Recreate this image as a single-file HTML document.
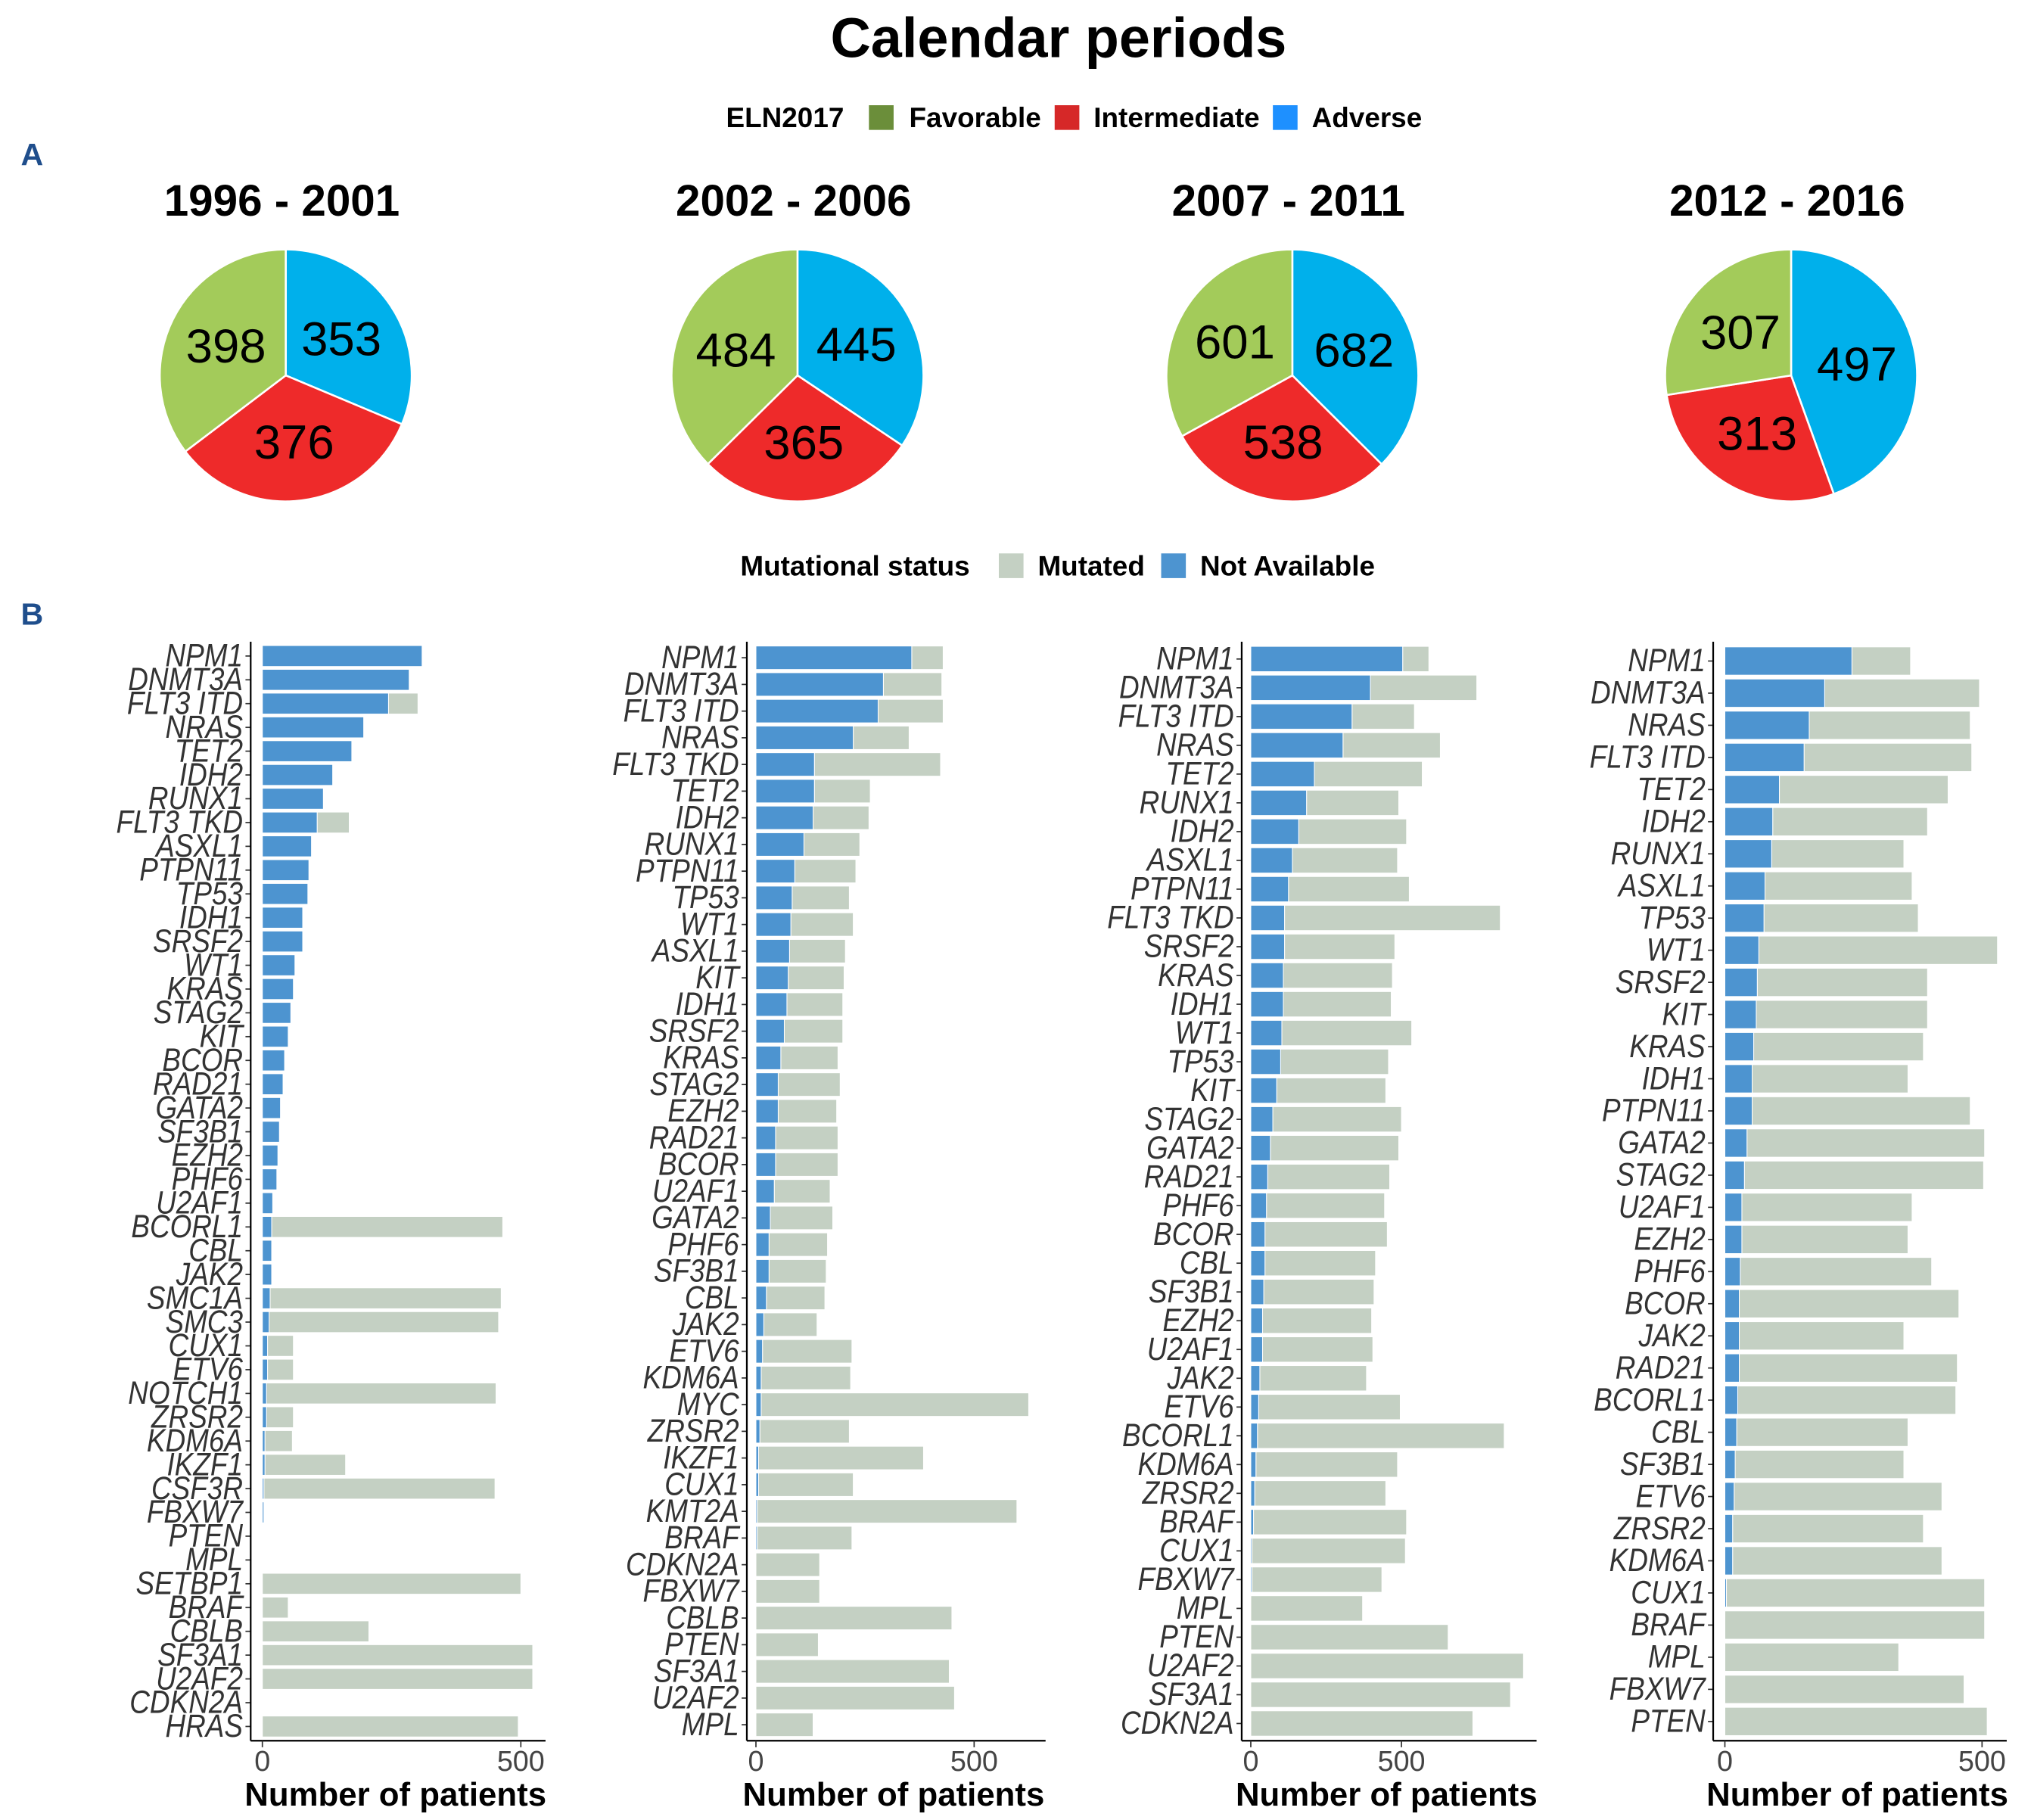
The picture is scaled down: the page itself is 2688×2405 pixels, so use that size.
<!DOCTYPE html>
<html><head><meta charset="utf-8">
<style>
html,body{margin:0;padding:0;background:#fff;}
svg{display:block;font-family:"Liberation Sans",Arial,sans-serif;}
</style></head>
<body>
<svg id="fig" width="2688" height="2405" viewBox="0 0 1566 1401" preserveAspectRatio="none" xmlns="http://www.w3.org/2000/svg">
<text x="815" y="44" text-anchor="middle" font-size="43" font-weight="bold">Calendar periods</text>
<g font-size="21.5" font-weight="bold">
<text x="559" y="98">ELN2017</text>
<rect x="669" y="81" width="19" height="19" fill="#6b8e3a"/>
<text x="700" y="98">Favorable</text>
<rect x="812" y="81" width="19" height="19" fill="#d62828"/>
<text x="842" y="98">Intermediate</text>
<rect x="980" y="81" width="19" height="19" fill="#1e90ff"/>
<text x="1010" y="98">Adverse</text>
</g>
<text x="16" y="127" font-size="24" font-weight="bold" fill="#1f4e8c">A</text>
<text x="16" y="481" font-size="24" font-weight="bold" fill="#1f4e8c">B</text>
<g font-size="21.5" font-weight="bold">
<text x="570" y="443">Mutational status</text>
<rect x="769" y="426" width="19" height="19" fill="#c4d0c3"/>
<text x="799" y="443">Mutated</text>
<rect x="894" y="426" width="19" height="19" fill="#4d94d0"/>
<text x="924" y="443">Not Available</text>
</g>
<g id="pies"></g>
<g id="bars"></g>
</svg>
<script>
// Pie data
const periods = ["1996 - 2001","2002 - 2006","2007 - 2011","2012 - 2016"];
const favorable = [398,484,601,307];
const intermediate = [376,365,538,313];
const adverse = [353,445,682,497];

// Bar data: per panel genes, not-available (blue) and total counts
const genes1 = ["NPM1","DNMT3A","FLT3 ITD","NRAS","TET2","IDH2","RUNX1","FLT3 TKD","ASXL1","PTPN11","TP53","IDH1","SRSF2","WT1","KRAS","STAG2","KIT","BCOR","RAD21","GATA2","SF3B1","EZH2","PHF6","U2AF1","BCORL1","CBL","JAK2","SMC1A","SMC3","CUX1","ETV6","NOTCH1","ZRSR2","KDM6A","IKZF1","CSF3R","FBXW7","PTEN","MPL","SETBP1","BRAF","CBLB","SF3A1","U2AF2","CDKN2A","HRAS"];
const notAvail1 = [309,284,244,196,173,136,118,106,95,90,88,78,78,63,60,55,50,43,40,35,33,30,28,20,18,18,18,15,13,10,10,8,8,5,5,3,3,1,1,0,0,0,0,0,0,0];
const total1 = [309,284,301,196,173,136,118,168,95,90,88,78,78,63,60,55,50,43,40,35,33,30,28,20,465,18,18,462,457,60,60,452,60,58,161,450,3,1,1,500,50,206,523,523,0,495];

const genes2 = ["NPM1","DNMT3A","FLT3 ITD","NRAS","FLT3 TKD","TET2","IDH2","RUNX1","PTPN11","TP53","WT1","ASXL1","KIT","IDH1","SRSF2","KRAS","STAG2","EZH2","RAD21","BCOR","U2AF1","GATA2","PHF6","SF3B1","CBL","JAK2","ETV6","KDM6A","MYC","ZRSR2","IKZF1","CUX1","KMT2A","BRAF","CDKN2A","FBXW7","CBLB","PTEN","SF3A1","U2AF2","MPL"];
const notAvail2 = [357,292,280,223,134,134,131,110,89,83,80,77,74,71,65,57,51,51,45,45,42,33,30,30,24,18,15,12,12,9,6,6,3,3,0,0,0,0,0,0,0];
const total2 = [429,426,429,351,423,262,259,238,229,214,223,205,202,199,199,188,193,185,188,188,170,176,164,161,158,140,220,217,625,214,384,223,598,220,146,146,449,143,443,455,131];

const genes3 = ["NPM1","DNMT3A","FLT3 ITD","NRAS","TET2","RUNX1","IDH2","ASXL1","PTPN11","FLT3 TKD","SRSF2","KRAS","IDH1","WT1","TP53","KIT","STAG2","GATA2","RAD21","PHF6","BCOR","CBL","SF3B1","EZH2","U2AF1","JAK2","ETV6","BCORL1","KDM6A","ZRSR2","BRAF","CUX1","FBXW7","MPL","PTEN","U2AF2","SF3A1","CDKN2A"];
const notAvail3 = [504,397,336,306,211,185,159,138,125,112,112,108,108,103,99,86,73,65,56,52,47,47,43,39,39,30,26,22,17,13,9,4,4,0,0,0,0,0];
const total3 = [591,750,543,629,569,491,517,487,526,828,478,470,466,534,457,448,500,491,461,444,453,414,409,401,405,384,496,841,487,448,517,513,435,371,655,905,862,737];

const genes4 = ["NPM1","DNMT3A","NRAS","FLT3 ITD","TET2","IDH2","RUNX1","ASXL1","TP53","WT1","SRSF2","KIT","KRAS","IDH1","PTPN11","GATA2","STAG2","U2AF1","EZH2","PHF6","BCOR","JAK2","RAD21","BCORL1","CBL","SF3B1","ETV6","ZRSR2","KDM6A","CUX1","BRAF","MPL","FBXW7","PTEN"];
const notAvail4 = [247,194,164,154,106,93,91,78,76,66,63,61,56,53,53,43,38,33,33,30,28,28,28,25,23,20,18,15,15,3,0,0,0,0];
const total4 = [361,495,477,480,434,394,348,364,376,530,394,394,386,356,477,505,503,364,356,402,455,348,452,449,356,348,422,386,422,505,505,338,465,510];

const NS="http://www.w3.org/2000/svg";
function mk(tag, attrs, parent){const e=document.createElementNS(NS,tag);for(const k in attrs)e.setAttribute(k,attrs[k]);parent.appendChild(e);return e;}

// Pies
const pieG=document.getElementById('pies');
const pieCx=[220,614,995,1379], pieCy=289, pieR=97;
for(let p=0;p<4;p++){
  const t=mk('text',{x:pieCx[p]-3,y:166,'text-anchor':'middle','font-size':34,'font-weight':'bold'},pieG);
  
  
  t.textContent=periods[p];
  const vals=[adverse[p],intermediate[p],favorable[p]];
  const cols=['#00b0eb','#ee2a2a','#a3cb5a'];
  const names=['adverse','intermediate','favorable'];
  const sum=vals[0]+vals[1]+vals[2];
  let a0=0;
  for(let i=0;i<3;i++){
    const a1=a0+vals[i]/sum*2*Math.PI;
    const x0=pieCx[p]+pieR*Math.sin(a0), y0=pieCy-pieR*Math.cos(a0);
    const x1=pieCx[p]+pieR*Math.sin(a1), y1=pieCy-pieR*Math.cos(a1);
    const large=(a1-a0)>Math.PI?1:0;
    const s=mk('path',{d:`M${pieCx[p]},${pieCy} L${x0},${y0} A${pieR},${pieR} 0 ${large} 1 ${x1},${y1} Z`,fill:cols[i],stroke:'#fff','stroke-width':1.5},pieG);
    
    
    const am=(a0+a1)/2, lr=pieR*0.53;
    const lt=mk('text',{x:pieCx[p]+lr*Math.sin(am),y:pieCy-lr*Math.cos(am)+13,'text-anchor':'middle','font-size':37},pieG);
    
    
    lt.textContent=vals[i];
    a0=a1;
  }
}

// Bars
const barsG=document.getElementById('bars');
const panels=[
 {g:genes1,b:notAvail1,t:total1,x0:202,px500:199,axL:193,axR:420},
 {g:genes2,b:notAvail2,t:total2,x0:582,px500:168,axL:575,axR:805},
 {g:genes3,b:notAvail3,t:total3,x0:963,px500:116,axL:956,axR:1183},
 {g:genes4,b:notAvail4,t:total4,x0:1328,px500:198,axL:1319,axR:1545}
];
const yTop=494, yBot=1340;
panels.forEach((P,pi)=>{
  const pg=mk('g',{},barsG);
  
  
  const n=P.g.length;
  const step=(yBot-yTop)/(n+0.2);
  const yC=i=>yTop+step*(i+0.6);
  const xS=v=>P.x0+v*P.px500/500;
  const bh=step*0.88;
  for(let i=0;i<n;i++){
    const yc=yC(i);
    if(P.t[i]>P.b[i]){
      const r=mk('rect',{x:xS(P.b[i]),y:yc-bh/2,width:xS(P.t[i])-xS(P.b[i]),height:bh,fill:'#c4d0c3',stroke:'#fff','stroke-width':0.6},pg);
      
      
    }
    if(P.b[i]>0){
      const r=mk('rect',{x:xS(0),y:yc-bh/2,width:xS(P.b[i])-xS(0),height:bh,fill:'#4d94d0',stroke:'#fff','stroke-width':0.6},pg);
      
      
    }
    const lab=mk('text',{x:0,y:0,'text-anchor':'end','font-size':25,'font-style':'italic',fill:'#333',transform:`translate(${P.axL-6},${yc+8}) scale(0.86,1)`},pg);
    
    
    lab.textContent=P.g[i];
    mk('line',{x1:P.axL-4,x2:P.axL,y1:yc,y2:yc,stroke:'#333','stroke-width':1},pg);
  }
  const ya=mk('line',{x1:P.axL,x2:P.axL,y1:yTop,y2:yBot,stroke:'#000','stroke-width':1.3},pg);
  
  
  const xa=mk('line',{x1:P.axL,x2:P.axR,y1:yBot,y2:yBot,stroke:'#000','stroke-width':1.3},pg);
  
  
  [0,500].forEach(v=>{
    mk('line',{x1:xS(v),x2:xS(v),y1:yBot,y2:yBot+5,stroke:'#333','stroke-width':1},pg);
    const tl=mk('text',{x:xS(v),y:yBot+23,'text-anchor':'middle','font-size':22,fill:'#444'},pg);
    
    
    tl.textContent=v;
  });
  const xt=mk('text',{x:(P.axL+P.axR)/2-2,y:1390,'text-anchor':'middle','font-size':25.5,'font-weight':'bold'},pg);
  
  
  xt.textContent='Number of patients';
});
</script>
</body></html>
